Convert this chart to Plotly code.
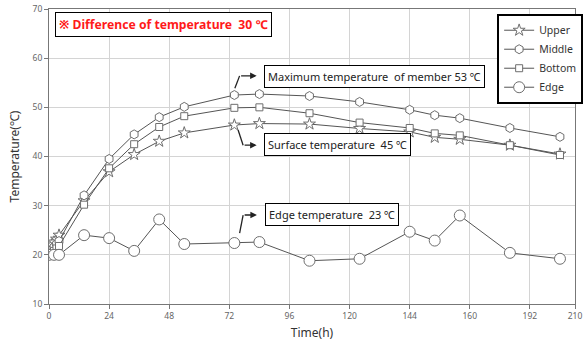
import plotly.graph_objects as go

# ---- data ----
t_main = [0, 1, 2, 3, 4, 14, 24, 34, 44, 54, 74, 84, 104, 124, 144, 154, 164, 184, 204]
upper = [21.0, 22.0, 22.6, 23.2, 24.0, 31.0, 36.9, 40.4, 43.1, 44.8, 46.4, 46.7, 46.6, 45.7, 45.0, 43.9, 43.5, 42.3, 40.5]
middle = [20.5, 21.0, 21.6, 22.2, 22.8, 32.1, 39.5, 44.5, 48.0, 50.1, 52.5, 52.7, 52.3, 51.1, 49.5, 48.4, 47.8, 45.8, 44.0]
bottom = [20.0, 20.4, 20.8, 21.3, 21.8, 30.2, 37.6, 42.5, 46.0, 48.2, 49.9, 50.0, 48.8, 46.9, 45.8, 44.7, 44.3, 42.3, 40.3]
t_edge = [0, 2, 4, 14, 24, 34, 44, 54, 74, 84, 104, 124, 144, 154, 164, 184, 204]
edge = [20.0, 20.0, 20.0, 24.0, 23.4, 20.8, 27.2, 22.2, 22.4, 22.6, 18.8, 19.2, 24.7, 22.9, 28.0, 20.4, 19.2]

x_tickvals = [0, 24, 48, 72, 96, 120, 144, 168, 192, 210]
x_ticktext = ["0", "24", "48", "72", "96", "120", "144", "160", "192", "210"]
y_tickvals = [10, 20, 30, 40, 50, 60, 70]

FONT = "Noto Sans, Open Sans, sans-serif"
LINE = "#555555"
MK = "#6e6e6e"

fig = go.Figure()

def add(name, x, y, symbol, size):
    fig.add_trace(go.Scatter(
        x=x, y=y, name=name, mode="lines+markers",
        line=dict(color=LINE, width=1),
        marker=dict(symbol=symbol, size=size, color="white",
                    line=dict(color=MK, width=1)),
    ))

add("Upper", t_main, upper, "star", 9)
add("Middle", t_main, middle, "hexagon", 9)
add("Bottom", t_main, bottom, "square", 7)
add("Edge", t_edge, edge, "circle", 11)

# ---- annotations (text boxes) ----
def box(text, x, y, size=11, color="#222", bold=False):
    fig.add_annotation(
        x=x, y=y, xref="x", yref="y", xanchor="left", yanchor="middle",
        text=("<b>%s</b>" % text) if bold else text, showarrow=False,
        font=dict(family=FONT, size=size, color=color),
        bgcolor="white", bordercolor="black", borderwidth=1, borderpad=3,
    )

box("※ Difference of temperature  30 ℃", 2.5, 66.9, size=12.2, color="#ff1a1a", bold=True)
box("Maximum temperature  of member 53 ℃", 85.8, 56.2)
box("Surface temperature  45 ℃", 85.8, 42.5)
box("Edge temperature  23 ℃", 86.2, 28.3)

# ---- elbow arrows ----
arrows = [
    [(74.2, 53.9), (76.1, 56.4), (82.9, 56.4)],
    [(75.5, 45.4), (77.5, 42.3), (82.9, 42.3)],
    [(76.1, 24.4), (77.5, 28.1), (83.0, 28.1)],
]
for pts in arrows:
    (x0, y0), (x1, y1), (x2, y2) = pts
    fig.add_shape(type="line", x0=x0, y0=y0, x1=x1, y1=y1, xref="x", yref="y",
                  line=dict(color="#222", width=1.3))
    fig.add_annotation(x=x2, y=y2, ax=x1, ay=y1, xref="x", yref="y",
                       axref="x", ayref="y", text="", showarrow=True,
                       arrowhead=2, arrowsize=1, arrowwidth=1.3, arrowcolor="#222")

fig.update_layout(
    width=583, height=344,
    margin=dict(l=49, r=8, t=9, b=40, autoexpand=False),
    paper_bgcolor="white", plot_bgcolor="white",
    font=dict(family=FONT, color="#333"),
    showlegend=True,
    legend=dict(x=0.852, y=0.984, xanchor="left", yanchor="top",
                bgcolor="white", bordercolor="black", borderwidth=2,
                font=dict(family=FONT, size=10.5, color="#333"),
                itemwidth=30, tracegroupgap=4),
)
fig.update_xaxes(
    range=[0, 210], tickvals=x_tickvals, ticktext=x_ticktext,
    showgrid=True, gridcolor="#d4d4d4", gridwidth=1,
    showline=True, linecolor="#777", mirror=True, linewidth=1,
    ticks="outside", ticklen=4, tickcolor="#777",
    tickfont=dict(size=8.5, color="#666"),
    title=dict(text="Time(h)", font=dict(size=12, color="#333"), standoff=8),
    zeroline=False, automargin=False, ticklabeloverflow="allow",
)
fig.update_yaxes(
    range=[10, 70], tickvals=y_tickvals,
    showgrid=True, gridcolor="#d4d4d4", gridwidth=1,
    showline=True, linecolor="#777", mirror=True, linewidth=1,
    ticks="outside", ticklen=4, tickcolor="#777",
    tickfont=dict(size=8.5, color="#666"),
    title=dict(text="Temperature(℃)", font=dict(size=12, color="#333"), standoff=10),
    zeroline=False, automargin=False,
)

fig.write_html("out.html")
